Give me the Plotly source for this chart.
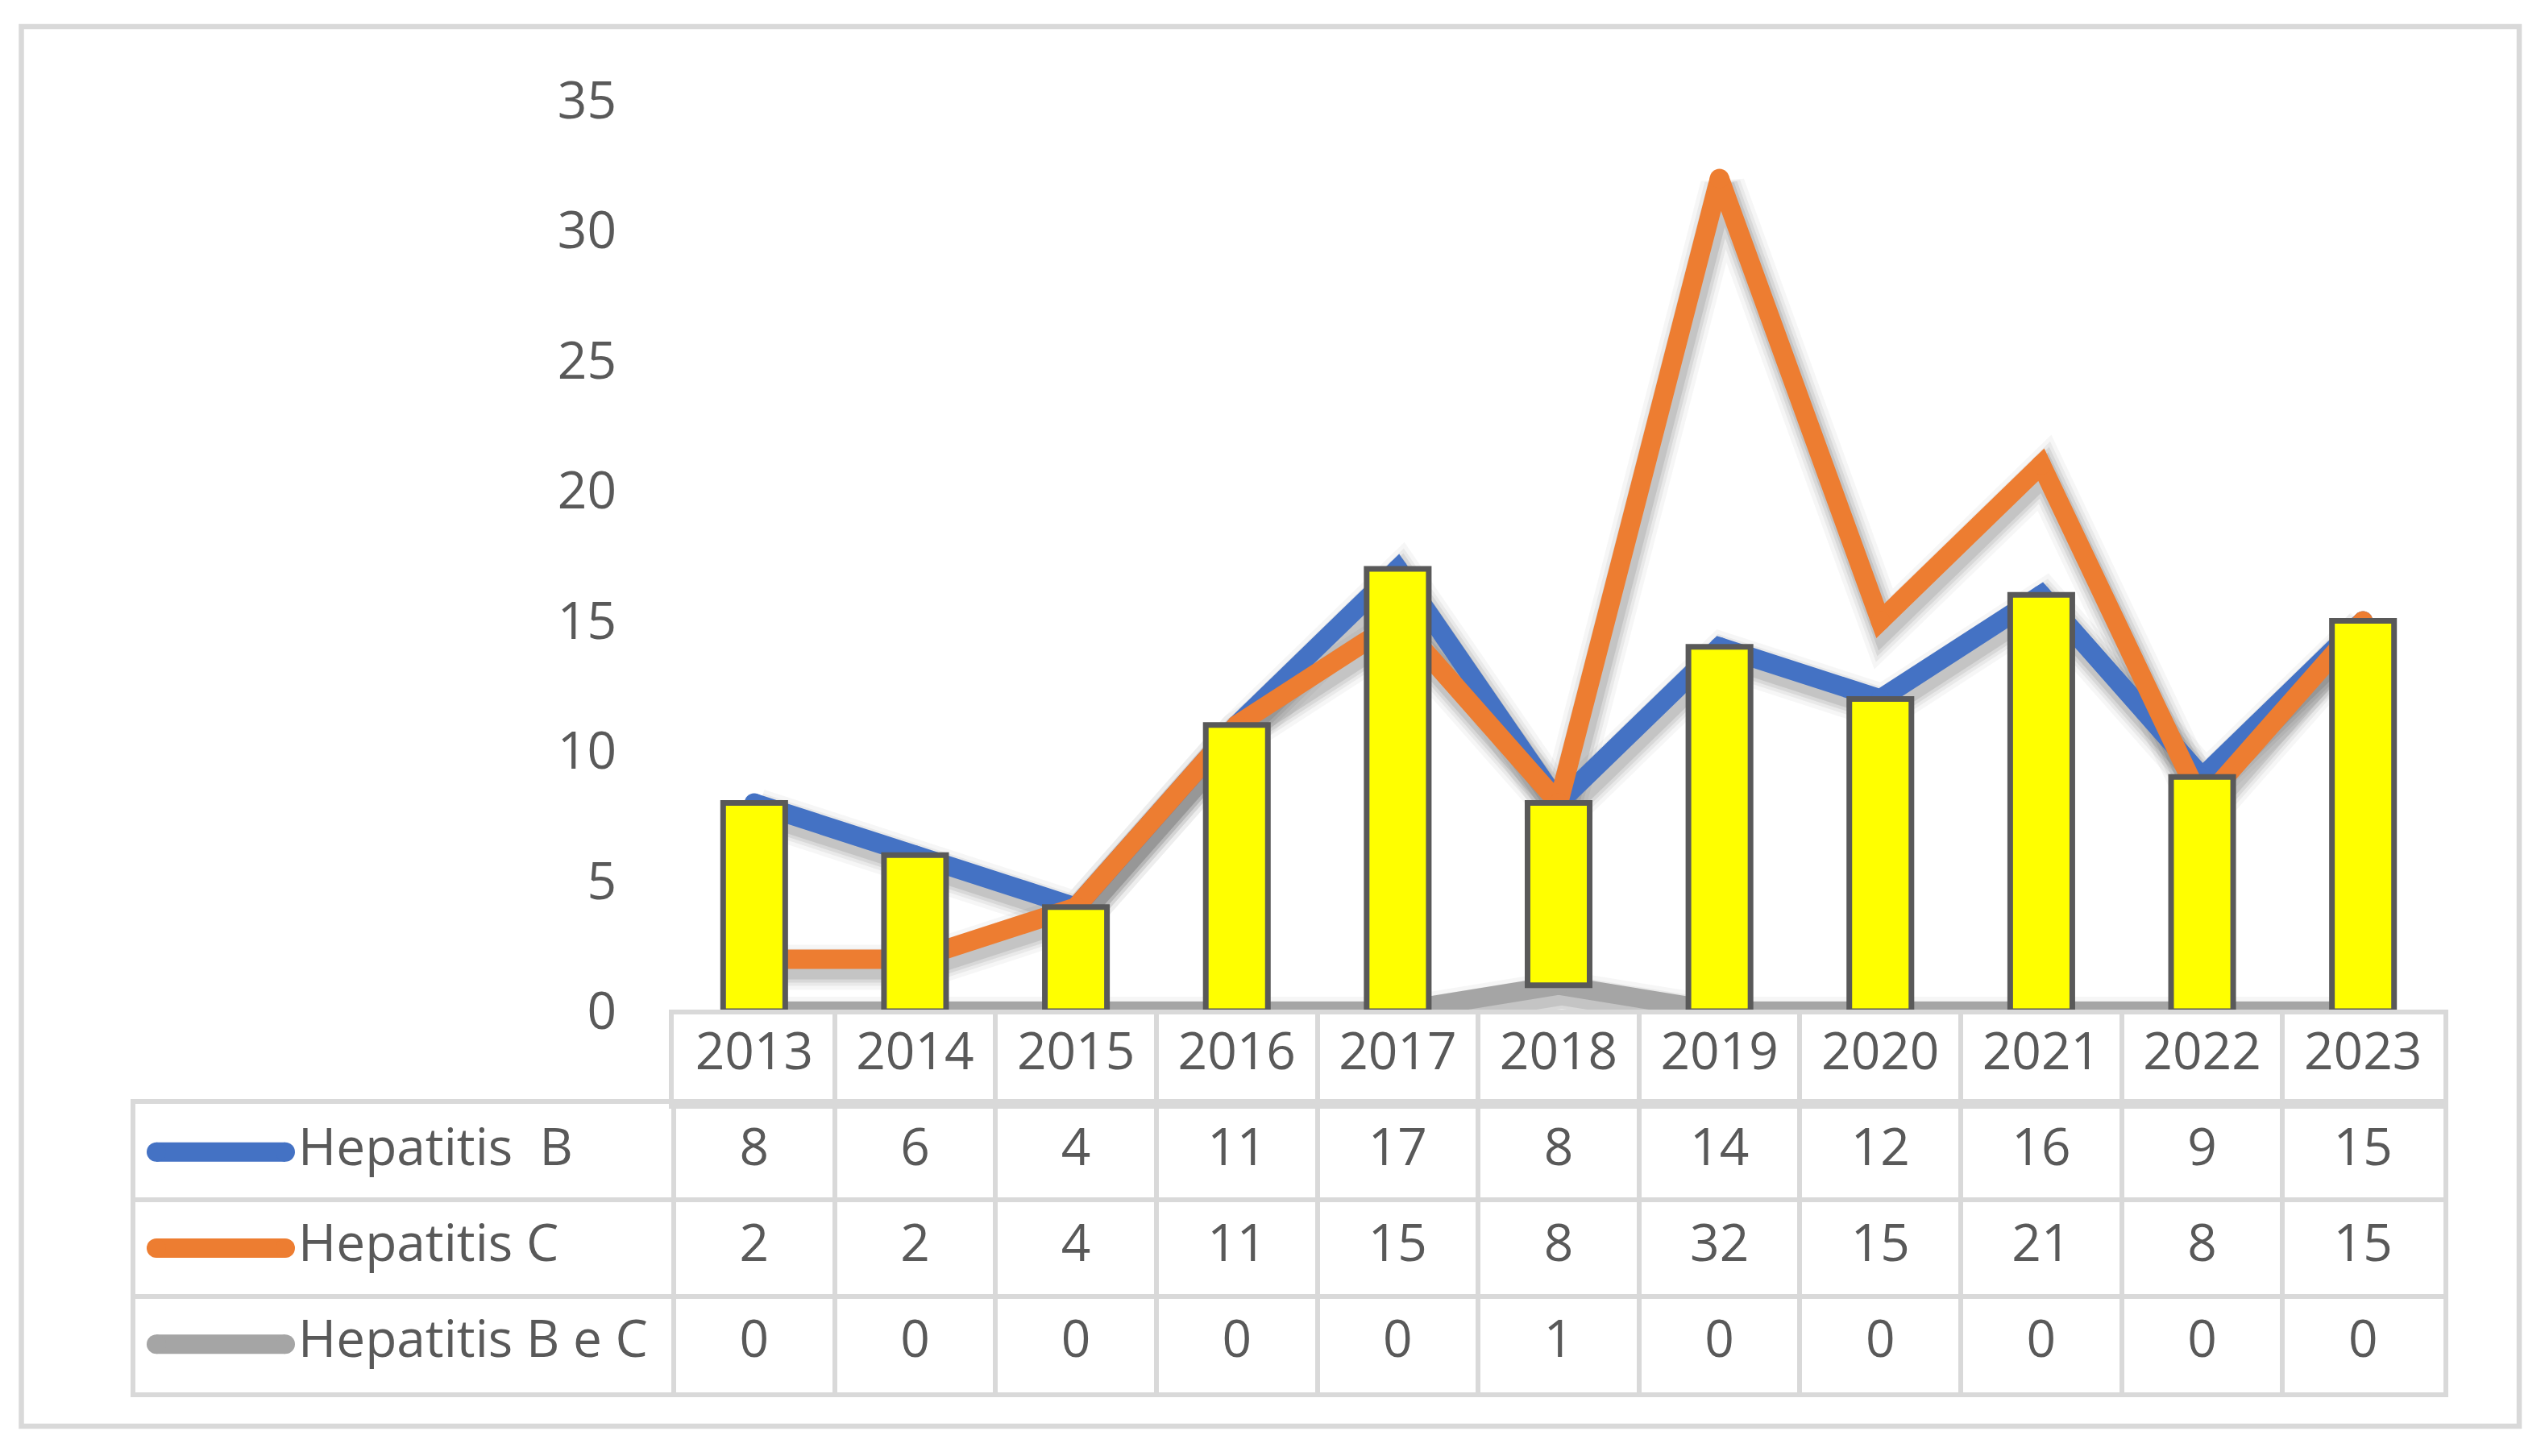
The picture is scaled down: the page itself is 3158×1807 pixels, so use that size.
import plotly.graph_objects as go

# ---------------- data ----------------
years = ["2013", "2014", "2015", "2016", "2017", "2018", "2019", "2020", "2021", "2022", "2023"]
hep_b = [8, 6, 4, 11, 17, 8, 14, 12, 16, 9, 15]
hep_c = [2, 2, 4, 11, 15, 8, 32, 15, 21, 8, 15]
hep_bc = [0, 0, 0, 0, 0, 1, 0, 0, 0, 0, 0]
series_names = ["Hepatitis \u00a0B", "Hepatitis C", "Hepatitis B e C"]
series_values = [hep_b, hep_c, hep_bc]
series_colors = ["#4472C4", "#ED7D31", "#A5A5A5"]
y_ticks = [0, 5, 10, 15, 20, 25, 30, 35]

# ---------------- layout geometry (pixels) ----------------
W, H = 3158, 1807
PLOT_L, PLOT_R = 836, 3032
PLOT_T, PLOT_B = 124.5, 1255      # pixel of value 35 and value 0
CLIP_B = 1258.5                   # plot area extends a little below zero
HDR_T = 1259
HDR_B = 1370
TBL_B = 1728
TBL_L = 168
YMAX = 35

n = len(years)
col_w = (PLOT_R - PLOT_L) / n
unit_y = (PLOT_B - PLOT_T) / YMAX
y_lo = -(CLIP_B - PLOT_B) / unit_y


def fx(p):
    return p / W


def fy(p):
    return 1 - p / H


TXT = "#595959"
GRID = "#D9D9D9"
FONT = "Open Sans"
FS = 64

fig = go.Figure()

# ---- soft shadows (base subplot x/y, offset down-right) ----
SH_DX, SH_DY = 4, 10
for vals in series_values:
    for w, a in [(56, 0.035), (46, 0.05), (38, 0.07), (30, 0.09)]:
        fig.add_trace(go.Scatter(
            x=years, y=vals, mode="lines",
            line=dict(color=f"rgba(0,0,0,{a})", width=w),
            xaxis="x", yaxis="y", hoverinfo="skip", showlegend=False))

# ---- lines (overlay x2/y2) ----
for name, vals, col in zip(series_names, series_values, series_colors):
    fig.add_trace(go.Scatter(
        x=years, y=vals, mode="lines+markers", name=name,
        line=dict(color=col, width=24),
        marker=dict(color=col, size=24),
        xaxis="x2", yaxis="y2", showlegend=False))

# ---- up/down bars between first (B) and last (B e C) series (overlay x3/y3) ----
fig.add_trace(go.Bar(
    x=years, y=[b - c for b, c in zip(hep_b, hep_bc)], base=hep_bc,
    width=0.386,
    marker=dict(color="#FFFF00", line=dict(color="#595959", width=7)),
    xaxis="x3", yaxis="y3", showlegend=False, hoverinfo="skip"))

# ---- data table: header row (x4/y4) ----
idx = list(range(n))
fig.add_trace(go.Scatter(
    x=idx, y=[0.47] * n, text=years, mode="text",
    textfont=dict(family=FONT, size=FS, color=TXT),
    xaxis="x4", yaxis="y4", showlegend=False, hoverinfo="skip"))

# ---- data table: series rows (x5/y5) ----
x_left = (TBL_L - PLOT_L) / col_w - 0.5
g0 = (194 - PLOT_L) / col_w - 0.5
g1 = (354 - PLOT_L) / col_w - 0.5
tx = (370 - PLOT_L) / col_w - 0.5
for i, (name, vals, col) in enumerate(zip(series_names, series_values, series_colors)):
    fig.add_trace(go.Scatter(
        x=idx, y=[i + 0.5] * n, text=[str(v) for v in vals], mode="text",
        textfont=dict(family=FONT, size=FS, color=TXT),
        xaxis="x5", yaxis="y5", showlegend=False, hoverinfo="skip"))
    fig.add_trace(go.Scatter(
        x=[g0, g1], y=[i + 0.5, i + 0.5], mode="lines+markers",
        line=dict(color=col, width=24), marker=dict(color=col, size=24),
        xaxis="x5", yaxis="y5", showlegend=False, hoverinfo="skip", cliponaxis=False))
    fig.add_trace(go.Scatter(
        x=[tx], y=[i + 0.5], text=[name], mode="text", textposition="middle right",
        textfont=dict(family=FONT, size=FS, color=TXT),
        xaxis="x5", yaxis="y5", showlegend=False, hoverinfo="skip", cliponaxis=False))

hidden = dict(showgrid=False, zeroline=False, showticklabels=False, ticks="",
              showline=False, automargin=False)
grid_common = dict(gridcolor=GRID, gridwidth=6, linecolor=GRID, linewidth=6,
                   zeroline=False, showticklabels=False, ticks="", automargin=False)

fig.update_layout(
    template="none",
    width=W, height=H, autosize=False,
    margin=dict(l=0, r=0, t=0, b=0, pad=0),
    paper_bgcolor="white", plot_bgcolor="white",
    font=dict(family=FONT, size=FS, color=TXT),
    showlegend=False,
    xaxis=dict(domain=[fx(PLOT_L), fx(PLOT_R)], type="category",
               range=[-0.5 - SH_DX / col_w, n - 0.5 - SH_DX / col_w], anchor="y", **hidden),
    yaxis=dict(domain=[fy(CLIP_B), fy(PLOT_T)],
               range=[y_lo + SH_DY / unit_y, YMAX + SH_DY / unit_y], anchor="x", **hidden),
    xaxis2=dict(overlaying="x", type="category", range=[-0.5, n - 0.5], anchor="y2", **hidden),
    yaxis2=dict(overlaying="y", range=[y_lo, YMAX], anchor="x2", side="left",
                tickvals=y_ticks, showgrid=False, zeroline=False, showline=False, ticks="",
                ticklabelstandoff=70, automargin=False,
                tickfont=dict(family=FONT, size=FS, color=TXT)),
    xaxis3=dict(overlaying="x", type="category", range=[-0.5, n - 0.5], anchor="y3", **hidden),
    yaxis3=dict(overlaying="y", range=[y_lo, YMAX], anchor="x3", **hidden),
    xaxis4=dict(domain=[fx(PLOT_L), fx(PLOT_R)], range=[-0.5, n - 0.5], anchor="y4",
                tickvals=[k + 0.5 for k in range(n - 1)], showgrid=True,
                showline=True, mirror=True, **grid_common),
    yaxis4=dict(domain=[fy(HDR_B), fy(HDR_T)], range=[1, 0], anchor="x4",
                showgrid=False, showline=True, mirror=True, **grid_common),
    xaxis5=dict(domain=[fx(TBL_L), fx(PLOT_R)], range=[x_left, n - 0.5], anchor="y5",
                tickvals=[k - 0.5 for k in range(n)], showgrid=True,
                showline=True, mirror=True, **grid_common),
    yaxis5=dict(domain=[fy(TBL_B), fy(HDR_B)], range=[3, 0], anchor="x5",
                tickvals=[1, 2], showgrid=True,
                showline=True, mirror=True, **grid_common),
    shapes=[dict(type="rect", xref="paper", yref="paper",
                 x0=fx(26.5), x1=fx(3126), y0=fy(1770), y1=fy(33),
                 line=dict(color=GRID, width=6.5), fillcolor="rgba(0,0,0,0)", layer="below")],
)

fig.write_html("out.html",
               config={"displayModeBar": False},
               post_script="document.body.style.margin='0px';document.body.style.overflow='hidden';")
